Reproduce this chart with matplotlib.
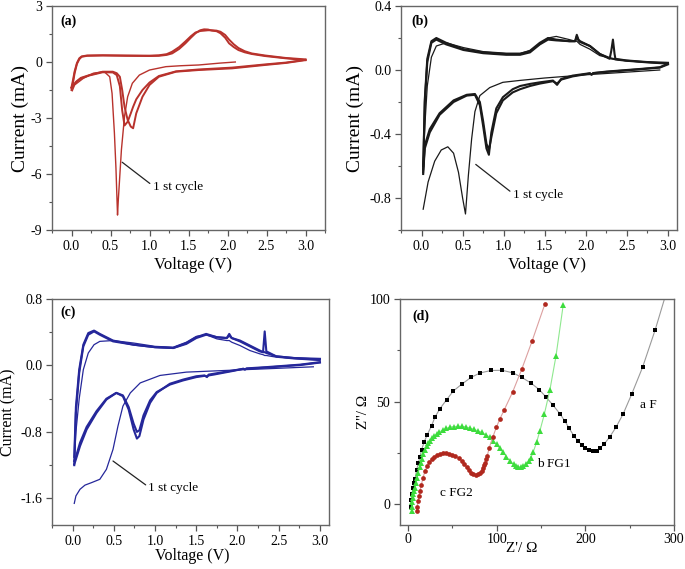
import matplotlib
matplotlib.use("Agg")
import matplotlib.pyplot as plt
from matplotlib.ticker import MultipleLocator

plt.rcParams['font.family'] = ['Liberation Serif', 'DejaVu Serif']
plt.rcParams['axes.unicode_minus'] = False
plt.rcParams['mathtext.fontset'] = 'stix'

# ---------------- Panel (a) data ----------------
a_c1_V = [2.1, 1.9, 1.63, 1.4, 1.21, 1.0, 0.87, 0.78, 0.72, 0.68, 0.64, 0.6, 0.59, 0.57, 0.55, 0.52, 0.49, 0.42, 0.28, 0.15, 0.04, 0.01]
a_c1_I = [0.0, -0.06, -0.16, -0.2, -0.25, -0.43, -0.7, -1.14, -1.86, -2.9, -4.7, -7.4, -8.2, -5.7, -3.8, -1.68, -0.79, -0.52, -0.6, -0.88, -1.23, -1.54]
a_an_V = [0.0, 0.02, 0.04, 0.07, 0.1, 0.13, 0.2, 0.4, 0.7, 1.0, 1.12, 1.22, 1.29, 1.38, 1.46, 1.53, 1.59, 1.65, 1.7, 1.75, 1.8, 1.86, 1.91, 1.97, 2.02, 2.08, 2.14, 2.22, 2.31, 2.48, 2.74, 3.0]
a_an1_I = [-1.5, -1.1, -0.6, -0.1, 0.15, 0.28, 0.33, 0.35, 0.33, 0.32, 0.33, 0.38, 0.46, 0.7, 1.0, 1.3, 1.54, 1.7, 1.75, 1.74, 1.68, 1.65, 1.54, 1.3, 1.0, 0.8, 0.64, 0.52, 0.43, 0.32, 0.2, 0.1]
a_an2_I = [-1.35, -0.95, -0.5, -0.05, 0.2, 0.3, 0.35, 0.36, 0.35, 0.34, 0.36, 0.42, 0.55, 0.8, 1.1, 1.38, 1.58, 1.66, 1.68, 1.7, 1.7, 1.68, 1.62, 1.45, 1.2, 0.95, 0.75, 0.58, 0.46, 0.35, 0.22, 0.14]
a_ca_V = [3.0, 2.75, 2.48, 2.06, 1.63, 1.34, 1.12, 1.0, 0.91, 0.83, 0.79, 0.76, 0.72, 0.68, 0.65, 0.62, 0.58, 0.53, 0.4, 0.23, 0.12, 0.06, 0.0]
a_ca1_I = [0.1, -0.05, -0.16, -0.34, -0.43, -0.52, -0.79, -1.23, -1.86, -2.75, -3.55, -3.46, -3.1, -2.4, -1.5, -0.79, -0.6, -0.52, -0.52, -0.7, -0.85, -1.05, -1.36]
a_ca2_I = [0.12, -0.03, -0.13, -0.3, -0.4, -0.5, -0.75, -1.1, -1.5, -2.0, -2.4, -2.75, -3.2, -3.4, -2.6, -1.3, -0.7, -0.56, -0.55, -0.72, -0.88, -1.08, -1.4]

# ---------------- Panel (b) data ----------------
b_an_V = [0.02, 0.04, 0.07, 0.12, 0.18, 0.3, 0.51, 0.75, 1.03, 1.2, 1.32, 1.44, 1.54, 1.64, 1.8, 1.87, 1.89, 1.91, 1.93, 2.05, 2.17, 2.29, 2.31, 2.33, 2.35, 2.36, 2.49, 2.74, 3.0]
b_an1_I = [-0.65, -0.18, 0.07, 0.18, 0.2, 0.17, 0.13, 0.11, 0.1, 0.1, 0.12, 0.17, 0.2, 0.19, 0.18, 0.18, 0.22, 0.19, 0.18, 0.15, 0.1, 0.07, 0.12, 0.19, 0.1, 0.07, 0.06, 0.05, 0.045]
b_an2_I = [-0.6, -0.2, 0.05, 0.17, 0.19, 0.16, 0.125, 0.105, 0.095, 0.095, 0.11, 0.16, 0.19, 0.185, 0.18, 0.18, 0.21, 0.185, 0.175, 0.15, 0.1, 0.075, 0.072, 0.07, 0.068, 0.066, 0.058, 0.048, 0.04]
b_an3_I = [-0.6, -0.35, -0.1, 0.08, 0.15, 0.17, 0.14, 0.115, 0.105, 0.105, 0.12, 0.16, 0.2, 0.21, 0.19, 0.18, 0.18, 0.17, 0.16, 0.13, 0.09, 0.075, 0.072, 0.07, 0.068, 0.066, 0.058, 0.048, 0.04]
b_ca_V = [3.0, 2.9, 2.65, 2.25, 2.09, 2.07, 2.05, 1.84, 1.7, 1.65, 1.6, 1.44, 1.32, 1.2, 1.11, 0.99, 0.91, 0.85, 0.82, 0.79, 0.75, 0.71, 0.65, 0.55, 0.39, 0.22, 0.1, 0.04, 0.02]
b_ca1_I = [0.04, 0.017, 0.006, -0.01, -0.019, -0.03, -0.02, -0.035, -0.056, -0.093, -0.066, -0.077, -0.087, -0.1, -0.12, -0.17, -0.24, -0.39, -0.53, -0.49, -0.35, -0.22, -0.155, -0.16, -0.2, -0.28, -0.39, -0.49, -0.64]
b_ca2_I = [0.035, 0.015, 0.004, -0.012, -0.02, -0.028, -0.022, -0.04, -0.06, -0.085, -0.07, -0.085, -0.1, -0.12, -0.14, -0.19, -0.27, -0.42, -0.5, -0.46, -0.32, -0.2, -0.15, -0.155, -0.19, -0.27, -0.37, -0.47, -0.62]
b_c1_V = [2.9, 2.0, 1.5, 1.2, 0.99, 0.83, 0.71, 0.65, 0.61, 0.57, 0.535, 0.5, 0.45, 0.39, 0.32, 0.24, 0.16, 0.08, 0.02]
b_c1_I = [0.0, -0.03, -0.05, -0.065, -0.077, -0.11, -0.16, -0.26, -0.43, -0.66, -0.9, -0.8, -0.64, -0.52, -0.48, -0.5, -0.57, -0.7, -0.87]

# ---------------- Panel (c) data ----------------
c_an_V = [0.02, 0.04, 0.08, 0.13, 0.19, 0.26, 0.33, 0.49, 0.74, 1.0, 1.22, 1.38, 1.5, 1.62, 1.75, 1.87, 1.9, 1.93, 2.03, 2.15, 2.27, 2.31, 2.33, 2.35, 2.47, 2.68, 3.0]
c_an1_I = [-1.2, -0.57, -0.09, 0.23, 0.37, 0.41, 0.37, 0.29, 0.25, 0.22, 0.21, 0.27, 0.34, 0.38, 0.34, 0.33, 0.38, 0.33, 0.29, 0.23, 0.17, 0.16, 0.41, 0.17, 0.11, 0.09, 0.07]
c_an2_I = [-1.1, -0.5, -0.05, 0.25, 0.39, 0.42, 0.38, 0.3, 0.25, 0.22, 0.21, 0.26, 0.33, 0.37, 0.34, 0.33, 0.36, 0.33, 0.3, 0.24, 0.18, 0.16, 0.16, 0.15, 0.11, 0.09, 0.08]
c_an3_I = [-1.15, -0.8, -0.4, -0.05, 0.15, 0.25, 0.29, 0.3, 0.27, 0.23, 0.22, 0.28, 0.35, 0.37, 0.32, 0.3, 0.3, 0.28, 0.24, 0.18, 0.14, 0.13, 0.12, 0.12, 0.1, 0.08, 0.06]
c_ca_V = [3.0, 2.76, 2.35, 2.11, 2.09, 2.07, 1.95, 1.71, 1.65, 1.63, 1.6, 1.5, 1.34, 1.18, 1.02, 0.94, 0.86, 0.81, 0.78, 0.74, 0.68, 0.61, 0.53, 0.41, 0.29, 0.17, 0.09, 0.04, 0.02]
c_ca1_I = [0.04, 0.01, -0.02, -0.035, -0.05, -0.04, -0.06, -0.1, -0.11, -0.14, -0.12, -0.13, -0.17, -0.22, -0.33, -0.45, -0.65, -0.85, -0.88, -0.77, -0.53, -0.37, -0.33, -0.41, -0.57, -0.77, -0.97, -1.13, -1.19]
c_ca2_I = [0.035, 0.005, -0.025, -0.04, -0.045, -0.04, -0.065, -0.11, -0.12, -0.13, -0.125, -0.14, -0.18, -0.23, -0.32, -0.42, -0.6, -0.78, -0.8, -0.7, -0.5, -0.36, -0.33, -0.4, -0.55, -0.74, -0.93, -1.1, -1.15]
c_c1_V = [2.92, 2.35, 1.95, 1.38, 1.06, 0.82, 0.7, 0.61, 0.55, 0.49, 0.41, 0.33, 0.23, 0.15, 0.09, 0.04, 0.02]
c_c1_I = [-0.016, -0.04, -0.056, -0.08, -0.12, -0.21, -0.33, -0.49, -0.73, -1.01, -1.25, -1.37, -1.41, -1.44, -1.49, -1.57, -1.66]

# ---------------- Panel (d) data (Nyquist) ----------------
F_x = [3, 3.5, 4.5, 5.5, 6.5, 8, 9.8, 11.6, 13.5, 15.4, 18, 21.8, 26.7, 30.4, 36, 43.6, 51.1, 60.5, 71, 81.2, 93.6, 106.3, 118.7, 128.5, 138.7, 148, 155.6, 163.8, 171.4, 177, 181.9, 187.5, 192, 195.8, 199.5, 204.4, 208.9, 212.7, 216.4, 221.3, 227.7, 234.5, 242.7, 252.2, 264.5, 278.8, 292]
F_y = [-1, 2, 5, 8, 10.5, 12.5, 16.8, 20.1, 23.3, 26.6, 30.2, 34, 38.4, 42.5, 46.6, 51, 55.2, 58.5, 61.8, 64, 65.2, 65.3, 64, 61.8, 59.1, 55.9, 52.3, 48.2, 44.1, 40.5, 37, 33.1, 30.7, 29.1, 27.7, 26.5, 25.8, 26.1, 27.4, 29.4, 33, 37.5, 44.1, 53.6, 66.7, 85, 104]
G_x = [4, 4.5, 5, 5.5, 6.2, 7, 7.9, 9, 10.3, 11.6, 13, 14.5, 16, 17.3, 19, 21, 23, 24.8, 27, 29.5, 32.4, 35.5, 39, 43, 47.4, 51.5, 56, 60.5, 65, 70, 74.5, 79, 83.1, 87.5, 92.4, 96, 99.9, 103.5, 107.5, 111, 115, 119, 122, 124.4, 127, 130, 133, 136, 138.7, 141.3, 145, 148.8, 153.7, 160.1, 166.9, 175.1]
G_y = [-3, -1, 1, 3, 5, 6.5, 8.1, 10.5, 13, 15.5, 18, 20.2, 22.3, 24.5, 26.5, 28.3, 29.8, 31, 32.2, 33.3, 34.3, 35.3, 36.2, 37, 37.6, 37.9, 38, 38, 37.8, 37.2, 36.5, 35.8, 35.1, 34, 32.7, 31, 29.4, 27.3, 25.3, 23.3, 21.2, 19.6, 18.8, 18.3, 18.2, 18.6, 19.5, 21, 22.8, 25.6, 30.2, 35.9, 43.8, 55.9, 72.2, 97.2]
R_x = [9.8, 10.5, 11.3, 12.3, 13.5, 15, 17, 19.2, 21.5, 24, 26.7, 29.5, 32.5, 36, 39.5, 43, 46.5, 50, 53.5, 57, 60.5, 63.5, 66, 68.5, 71, 73.6, 76.7, 79, 81.2, 83, 84.2, 85.5, 86.8, 88, 89.4, 91.7, 95.5, 99.7, 103.7, 108.6, 118, 128.2, 140.1, 154.5]
R_y = [-3.3, -1, 1.5, 4, 6.5, 9.5, 13, 16.3, 18.5, 20.5, 22, 23.2, 24, 24.6, 24.9, 24.9, 24.7, 24.2, 23.5, 22.5, 21.3, 19.7, 18.2, 16.7, 15.4, 14.6, 14.4, 14.7, 15.5, 16.5, 17.9, 19.2, 20.4, 22, 23.7, 27.7, 32.6, 37.6, 41.7, 46.1, 54.7, 65.7, 79.7, 97.7]

W, H = 685, 569
fig = plt.figure(figsize=(W / 100, H / 100), dpi=100)

def add_ax(l, r, t, b):
    return fig.add_axes([l / W, 1 - b / H, (r - l) / W, (b - t) / H])

ax_a = add_ax(52, 325, 6, 230)
ax_b = add_ax(401, 677, 6, 230)
ax_c = add_ax(52, 329, 299, 525)
ax_d = add_ax(400, 674, 299, 525)

spine_col = '#666666'
for ax in (ax_a, ax_b, ax_c, ax_d):
    for s in ax.spines.values():
        s.set_color(spine_col)
        s.set_linewidth(1.0)
    ax.tick_params(which='major', direction='out', length=4, width=0.9, color='#555555',
                   labelsize=10, top=False, right=False, pad=3)
    ax.tick_params(which='minor', direction='out', length=2.5, width=0.8, color='#555555',
                   top=False, right=False)

# ---- (a)
red = '#b8322c'
ax_a.plot(a_an_V, a_an1_I, color=red, lw=1.4)
ax_a.plot(a_an_V, a_an2_I, color=red, lw=1.4)
ax_a.plot(a_ca_V, a_ca1_I, color=red, lw=1.4)
ax_a.plot(a_ca_V, a_ca2_I, color=red, lw=1.4)
ax_a.plot(a_c1_V, a_c1_I, color=red, lw=1.0)
ax_a.set_xlim(-0.25, 3.25)
ax_a.set_ylim(-9, 3)
ax_a.xaxis.set_major_locator(MultipleLocator(0.5))
ax_a.xaxis.set_minor_locator(MultipleLocator(0.25))
ax_a.yaxis.set_major_locator(MultipleLocator(3))
ax_a.yaxis.set_minor_locator(MultipleLocator(1.5))
ax_a.annotate('1 st cycle', xy=(0.65, -5.37), xytext=(1.04, -6.7), fontsize=9.5,
              va='center', ha='left',
              arrowprops=dict(arrowstyle='-', color='#222222', lw=0.9, shrinkA=0, shrinkB=0,
                              relpos=(-0.04, 0.75)))
ax_a.text(0.03, 0.93, '(a)', transform=ax_a.transAxes, fontsize=10, fontweight='bold', va='center')
ax_a.set_xlabel('Voltage (V)', fontsize=12)
ax_a.set_ylabel('Current (mA)', fontsize=14)
ax_a.xaxis.set_label_coords(0.516, -0.12)
ax_a.yaxis.set_label_coords(-0.084, 0.5)

# ---- (b)
blk = '#1a1a1a'
ax_b.plot(b_an_V, b_an3_I, color=blk, lw=0.9)
ax_b.plot(b_an_V, b_an2_I, color=blk, lw=1.5)
ax_b.plot(b_an_V, b_an1_I, color=blk, lw=1.5)
ax_b.plot(b_ca_V, b_ca1_I, color=blk, lw=1.5)
ax_b.plot(b_ca_V, b_ca2_I, color=blk, lw=1.5)
ax_b.plot(b_c1_V, b_c1_I, color=blk, lw=0.9)
ax_b.set_xlim(-0.25, 3.11)
ax_b.set_ylim(-1.0, 0.4)
ax_b.xaxis.set_major_locator(MultipleLocator(0.5))
ax_b.xaxis.set_minor_locator(MultipleLocator(0.25))
ax_b.yaxis.set_major_locator(MultipleLocator(0.4))
ax_b.yaxis.set_minor_locator(MultipleLocator(0.2))
ax_b.annotate('1 st cycle', xy=(0.66, -0.59), xytext=(1.11, -0.78), fontsize=9.5,
              va='center', ha='left',
              arrowprops=dict(arrowstyle='-', color='#222222', lw=0.9, shrinkA=0, shrinkB=0,
                              relpos=(-0.04, 0.75)))
ax_b.text(0.039, 0.93, '(b)', transform=ax_b.transAxes, fontsize=10, fontweight='bold', va='center')
ax_b.set_xlabel('Voltage (V)', fontsize=12)
ax_b.set_ylabel('Current (mA)', fontsize=14)
ax_b.xaxis.set_label_coords(0.53, -0.12)
ax_b.yaxis.set_label_coords(-0.134, 0.5)

# ---- (c)
blue = '#25279a'
ax_c.plot(c_an_V, c_an3_I, color=blue, lw=0.9)
ax_c.plot(c_an_V, c_an2_I, color=blue, lw=1.5)
ax_c.plot(c_an_V, c_an1_I, color=blue, lw=1.5)
ax_c.plot(c_ca_V, c_ca1_I, color=blue, lw=1.5)
ax_c.plot(c_ca_V, c_ca2_I, color=blue, lw=1.5)
ax_c.plot(c_c1_V, c_c1_I, color=blue, lw=0.9)
ax_c.set_xlim(-0.25, 3.11)
ax_c.set_ylim(-1.92, 0.8)
ax_c.xaxis.set_major_locator(MultipleLocator(0.5))
ax_c.xaxis.set_minor_locator(MultipleLocator(0.25))
ax_c.yaxis.set_major_locator(MultipleLocator(0.8))
ax_c.yaxis.set_minor_locator(MultipleLocator(0.4))
ax_c.annotate('1 st cycle', xy=(0.49, -1.15), xytext=(0.92, -1.48), fontsize=9.5,
              va='center', ha='left',
              arrowprops=dict(arrowstyle='-', color='#222222', lw=0.9, shrinkA=0, shrinkB=0,
                              relpos=(-0.04, 0.75)))
ax_c.text(0.03, 0.94, '(c)', transform=ax_c.transAxes, fontsize=10, fontweight='bold', va='center')
ax_c.set_xlabel('Voltage (V)', fontsize=11.5)
ax_c.set_ylabel('Current (mA)', fontsize=11.5)
ax_c.xaxis.set_label_coords(0.505, -0.10)
ax_c.yaxis.set_label_coords(-0.128, 0.5)

# ---- (d)
ax_d.plot(F_x, F_y, color='#9a9a9a', lw=0.8, marker='s', ms=3.4, mfc='black', mec='black', mew=0)
ax_d.plot(G_x, G_y, color='#8fe88f', lw=0.8, marker='^', ms=4.2, mfc='#3ddc3d', mec='#3ddc3d', mew=0)
ax_d.plot(R_x, R_y, color='#dca0a0', lw=0.8, marker='o', ms=3.4, mfc='#b0281e', mec='#b0281e', mew=0)
ax_d.set_xlim(-9, 300)
ax_d.set_ylim(-10, 100)
ax_d.xaxis.set_major_locator(MultipleLocator(100))
ax_d.xaxis.set_minor_locator(MultipleLocator(50))
ax_d.yaxis.set_major_locator(MultipleLocator(50))
ax_d.yaxis.set_minor_locator(MultipleLocator(25))
ax_d.tick_params(axis='x', which='major', pad=1.5)
ax_d.text(5, 91.5, '(d)', fontsize=10, fontweight='bold', va='center')
ax_d.text(36, 5.4, 'c FG2', fontsize=9.5, va='center')
ax_d.text(145, 19.6, 'b FG1', fontsize=9.5, va='center')
ax_d.text(261.6, 48.5, 'a F', fontsize=9.5, va='center')
ax_d.set_xlabel("Z'/ Ω", fontsize=11)
ax_d.set_ylabel("Z''/ Ω", fontsize=11)
ax_d.xaxis.set_label_coords(0.445, -0.075)
ax_d.yaxis.set_label_coords(-0.109, 0.5)

fig.savefig('out.png', dpi=100)
